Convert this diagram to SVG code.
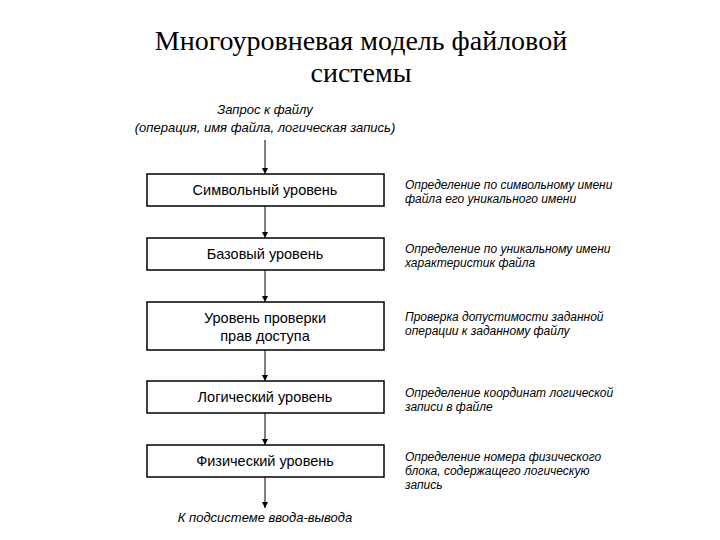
<svg xmlns="http://www.w3.org/2000/svg" width="720" height="540" viewBox="0 0 720 540">
<defs>
<style>
.title{font-family:"Liberation Serif","Times New Roman",serif;font-size:28px;fill:#000;text-anchor:middle}
.box{fill:#fff;stroke:#000;stroke-width:1.5}
.lbl{font-family:"Liberation Sans",Arial,sans-serif;font-size:14.5px;fill:#000;text-anchor:middle}
.it{font-family:"Liberation Sans",Arial,sans-serif;font-size:13px;font-style:italic;fill:#000}
.nt{font-family:"Liberation Sans",Arial,sans-serif;font-size:12px;font-style:italic;fill:#000}
.mid{text-anchor:middle}
.con{stroke:#000;stroke-width:1;fill:none;marker-end:url(#ah)}
</style>
<marker id="ah" viewBox="0 0 10 10" refX="10" refY="5" markerWidth="6" markerHeight="6" markerUnits="userSpaceOnUse" orient="auto">
<path d="M0,0 L10,5 L0,10 z" fill="#000"/>
</marker>
</defs>
<rect width="720" height="540" fill="#fff"/>
<g id="title">
<text class="title" x="361" y="50">Многоуровневая модель файловой</text>
<text class="title" x="361" y="82">системы</text>
</g>
<g id="request">
<text class="it mid" x="265" y="114">Запрос к файлу</text>
<text class="it mid" x="265" y="132">(операция, имя файла, логическая запись)</text>
</g>
<g id="connectors">
<line class="con" x1="265" y1="140" x2="265" y2="174"/>
<line class="con" x1="265" y1="206" x2="265" y2="238"/>
<line class="con" x1="265" y1="270" x2="265" y2="302"/>
<line class="con" x1="265" y1="350" x2="265" y2="381"/>
<line class="con" x1="265" y1="413" x2="265" y2="445"/>
<line class="con" x1="265" y1="477" x2="265" y2="508"/>
</g>
<g id="n1">
<rect class="box" x="147" y="174" width="237" height="32"/>
<text class="lbl" x="265" y="195">Символьный уровень</text>
</g>
<g id="n2">
<rect class="box" x="147" y="238" width="237" height="32"/>
<text class="lbl" x="265" y="259">Базовый уровень</text>
</g>
<g id="n3">
<rect class="box" x="147" y="302" width="237" height="48"/>
<text class="lbl" x="265" y="323">Уровень проверки</text>
<text class="lbl" x="265" y="341">прав доступа</text>
</g>
<g id="n4">
<rect class="box" x="147" y="381" width="237" height="32"/>
<text class="lbl" x="265" y="402">Логический уровень</text>
</g>
<g id="n5">
<rect class="box" x="147" y="445" width="237" height="32"/>
<text class="lbl" x="265" y="466">Физический уровень</text>
</g>
<g id="bottom">
<text class="it mid" x="265" y="522">К подсистеме ввода-вывода</text>
</g>
<g id="notes">
<text class="nt" x="405" y="189">Определение по символьному имени</text>
<text class="nt" x="405" y="203">файла его уникального имени</text>
<text class="nt" x="405" y="253">Определение по уникальному имени</text>
<text class="nt" x="405" y="267">характеристик файла</text>
<text class="nt" x="405" y="321">Проверка допустимости заданной</text>
<text class="nt" x="405" y="335">операции к заданному файлу</text>
<text class="nt" x="405" y="397">Определение координат  логической</text>
<text class="nt" x="405" y="411">записи в файле</text>
<text class="nt" x="405" y="461">Определение номера физического</text>
<text class="nt" x="405" y="475">блока, содержащего логическую</text>
<text class="nt" x="405" y="489">запись</text>
</g>
</svg>
